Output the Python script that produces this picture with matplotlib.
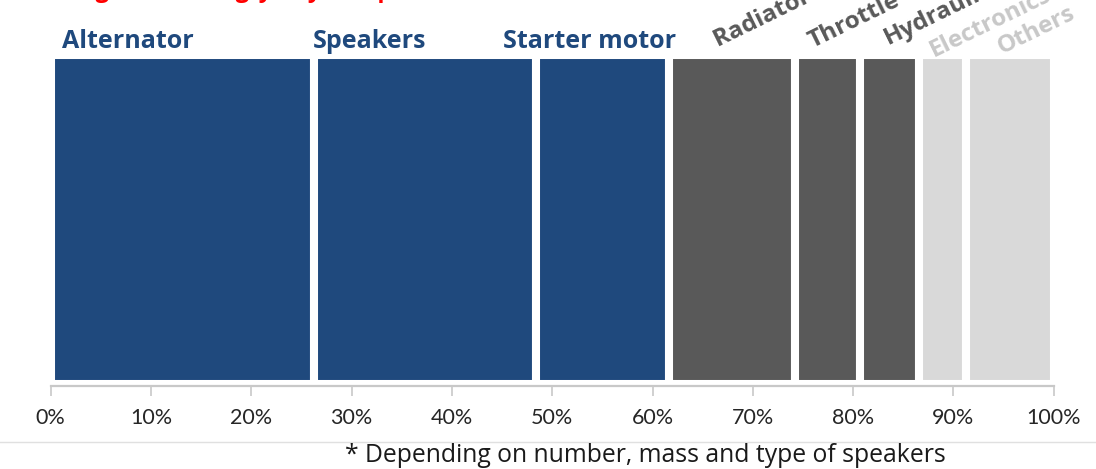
import numpy as np
import matplotlib
matplotlib.use('Agg')
import matplotlib.pyplot as plt

# ── Data: share of magnet mass per component (% of total) ─────────────
components = ['Alternator', 'Speakers', 'Starter motor', 'Radiator fan',
              'Throttle', 'Hydraulic', 'Electronics', 'Others']
shares     = [26.3, 22.1, 13.2, 12.6, 6.5, 5.9, 4.7, 8.7]
groups     = ['main', 'main', 'main', 'mid', 'mid', 'mid', 'minor', 'minor']
ticks      = [0, 10, 20, 30, 40, 50, 60, 70, 80, 90, 100]
tick_texts = [f'{t}%' for t in ticks]

fill   = {'main': '#1F497D', 'mid': '#595959', 'minor': '#D9D9D9'}
ink    = {'main': '#1F497D', 'mid': '#595959', 'minor': '#C8C8C8'}

LABEL_FONT = 'Open Sans'
TICK_FONT = 'Lato'

fig = plt.figure(figsize=(10.96, 4.69), dpi=100)
fig.patch.set_facecolor('white')
ax = fig.add_axes([50.7 / 1096, 1 - 386 / 469, 1003 / 1096, 331 / 469])

lefts = np.concatenate([[0], np.cumsum(shares)[:-1]])
ax.barh(0, shares, left=lefts, height=1.0,
        color=[fill[g] for g in groups], edgecolor='white', linewidth=5.8,
        zorder=1)

ax.set_xlim(0, 100)
ax.set_ylim(-0.5 - 2 / 329, 0.5)
ax.set_yticks([])
ax.set_xticks(ticks)
ax.set_xticklabels(tick_texts, fontsize=15.5, family=TICK_FONT, color='#262626')
for s in ['top', 'left', 'right']:
    ax.spines[s].set_visible(False)
ax.spines['bottom'].set_color('#C8C8C8')
ax.spines['bottom'].set_linewidth(1.6)
ax.spines['bottom'].set_zorder(5)
ax.tick_params(axis='x', direction='out', length=7, width=1.2,
               color='#C8C8C8', pad=9)

# Horizontal labels over the three big segments, slanted ones for the rest
px = 1 / 329   # one pixel in y data units
flat_offset = {'Alternator': 1.1, 'Speakers': -0.15, 'Starter motor': -3.3}
slant_offset = {'Radiator fan': (4.9, 8), 'Throttle': (1.8, 7),
                'Hydraulic': (2.8, 10), 'Electronics': (1.5, -2),
                'Others': (3.5, 1)}
for name, left, g in zip(components, lefts, groups):
    if name in flat_offset:
        ax.text(left + flat_offset[name], 0.5 + 7 * px, name,
                ha='left', va='baseline', fontsize=18, fontweight='bold',
                family=LABEL_FONT, color=ink[g], clip_on=False)
    else:
        dx, dy = slant_offset[name]
        ax.text(left + dx, 0.5 + dy * px, name,
                ha='left', va='baseline', rotation=26, rotation_mode='anchor',
                fontsize=17.5, fontweight='bold', family=LABEL_FONT,
                color=ink[g], clip_on=False)

# Title line running off the top edge (only its descenders stay on the page)
fig.text(52 / 1096, 1 + 3.5 / 469, 'Weight share (kg/y), by component in a car',
         ha='left', va='baseline', fontsize=17, fontweight='bold',
         family=LABEL_FONT, color='#FF0000')

# Separator and footnote
fig.add_artist(plt.Line2D([0, 1], [1 - 442 / 469] * 2, color='#E0E0E0',
                          lw=1.0, transform=fig.transFigure))
fig.text(645 / 1096, 1 - 455 / 469,
         '* Depending on number, mass and type of speakers',
         ha='center', va='center', fontsize=17.8, family=LABEL_FONT,
         color='#1A1A1A')

fig.savefig('out.png', dpi=100, facecolor='white')
